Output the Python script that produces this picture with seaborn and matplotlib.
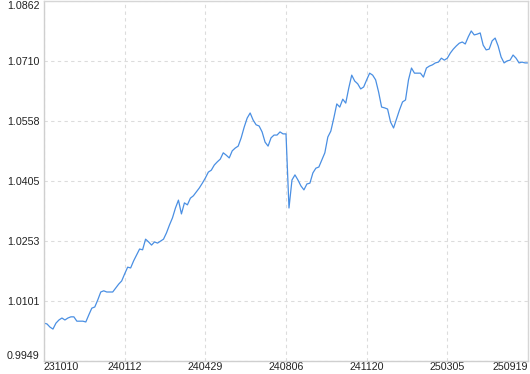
import matplotlib
matplotlib.use("Agg")
import matplotlib.pyplot as plt
import seaborn as sns
import pandas as pd
import numpy as np

# Net value series (evenly spaced trading samples)
values = [
    1.0045, 1.0043, 1.0035, 1.0030, 1.0045, 1.0053, 1.0058, 1.0053, 1.0058, 1.0061,
    1.0061, 1.0050, 1.0050, 1.0050, 1.0048, 1.0066, 1.0083, 1.0086, 1.0104, 1.0124,
    1.0127, 1.0124, 1.0124, 1.0124, 1.0134, 1.0144, 1.0152, 1.0170, 1.0187, 1.0185,
    1.0203, 1.0218, 1.0233, 1.0231, 1.0258, 1.0251, 1.0243, 1.0251, 1.0248, 1.0253,
    1.0258, 1.0274, 1.0294, 1.0312, 1.0337, 1.0357, 1.0322, 1.0350, 1.0345, 1.0362,
    1.0368, 1.0378, 1.0388, 1.0400, 1.0413, 1.0428, 1.0433, 1.0446, 1.0454, 1.0461,
    1.0477, 1.0471, 1.0464, 1.0482, 1.0489, 1.0494, 1.0515, 1.0542, 1.0565, 1.0578,
    1.0560, 1.0548, 1.0545, 1.0530, 1.0504, 1.0494, 1.0515, 1.0522, 1.0522, 1.0530,
    1.0525, 1.0525, 1.0337, 1.0408, 1.0421, 1.0408, 1.0393, 1.0383, 1.0398, 1.0400,
    1.0426, 1.0438, 1.0441, 1.0459, 1.0477, 1.0517, 1.0532, 1.0565, 1.0601, 1.0593,
    1.0613, 1.0603, 1.0641, 1.0674, 1.0659, 1.0652, 1.0639, 1.0644, 1.0662, 1.0679,
    1.0674, 1.0662, 1.0631, 1.0593, 1.0591, 1.0588, 1.0555, 1.0540, 1.0563, 1.0586,
    1.0606, 1.0611, 1.0662, 1.0692, 1.0679, 1.0679, 1.0679, 1.0669, 1.0692, 1.0697,
    1.0700, 1.0705, 1.0707, 1.0717, 1.0712, 1.0717, 1.0730, 1.0740, 1.0748, 1.0755,
    1.0758, 1.0753, 1.0771, 1.0786, 1.0776, 1.0778, 1.0781, 1.0750, 1.0738, 1.0740,
    1.0761, 1.0768, 1.0748, 1.0720, 1.0705, 1.0710, 1.0712, 1.0725, 1.0717, 1.0705,
    1.0707, 1.0705, 1.0705,
]

x_labels = ["231010", "240112", "240429", "240806", "241120", "250305", "250919"]
y_ticks = [0.9949, 1.0101, 1.0253, 1.0405, 1.0558, 1.0710, 1.0862]
y_labels = ["0.9949", "1.0101", "1.0253", "1.0405", "1.0558", "1.0710", "1.0862"]

df = pd.DataFrame({"idx": np.arange(len(values)), "value": values})

sns.set_style("white")
plt.rcParams["font.family"] = ["Liberation Sans", "DejaVu Sans"]

fig = plt.figure(figsize=(5.30, 3.74), dpi=100)
ax = fig.add_axes([44 / 530, 13 / 374, 484 / 530, 360 / 374])

sns.lineplot(data=df, x="idx", y="value", ax=ax, color="#4a8fe3", linewidth=0.9)

n = len(values) - 1
x_pos = [n * k / (len(x_labels) - 1) for k in range(len(x_labels))]
ax.set_xlim(0, n)
ax.set_ylim(y_ticks[0], y_ticks[-1])
ax.set_xticks(x_pos)
ax.set_xticklabels(x_labels)
ax.set_yticks(y_ticks)
ax.set_yticklabels(y_labels)
ax.set_xlabel("")
ax.set_ylabel("")

ax.grid(True, color="#dcdcdc", linestyle=(0, (3, 3)), linewidth=0.8)
for s in ax.spines.values():
    s.set_color("#d6d6d6")
    s.set_linewidth(1.0)
ax.spines["left"].set_color("#cfcfcf")
ax.spines["bottom"].set_color("#cfcfcf")

ax.tick_params(axis="both", length=0, labelsize=7.7, colors="#222222")
ax.tick_params(axis="y", pad=3)
ax.tick_params(axis="x", pad=1)

xl = ax.get_xticklabels()
xl[0].set_horizontalalignment("left")
xl[-1].set_horizontalalignment("right")
yl = ax.get_yticklabels()
yl[0].set_verticalalignment("bottom")
yl[-1].set_verticalalignment("top")

fig.savefig("out.png", dpi=100)
